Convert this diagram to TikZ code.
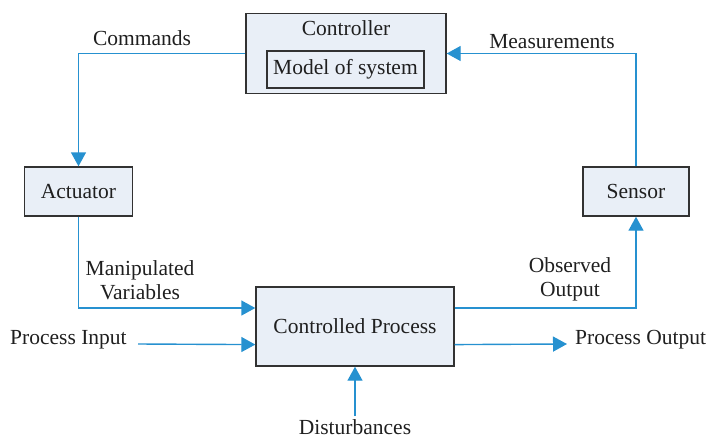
\documentclass[tikz,border=0pt]{standalone}
\usepackage{fontspec}
\setmainfont{Liberation Serif}
\usetikzlibrary{arrows.meta,calc}
\definecolor{flowblue}{RGB}{38,145,208}
\definecolor{boxfill}{RGB}{233,239,247}
\definecolor{boxgray}{RGB}{50,50,50}
\begin{document}
\begin{tikzpicture}[x=1pt,y=-1pt,
  every node/.style={font=\rmfamily\fontsize{21.5}{24}\selectfont, text=black!88},
  box/.style={draw=boxgray, fill=boxfill, line width=1.4pt, inner sep=0pt},
  flow/.style={draw=flowblue, line width=1.4pt},
  arr/.style={flow, -{Triangle[length=14pt,width=15pt,fill=flowblue]}},
  lbl/.style={inner sep=0pt, align=center}]
\useasboundingbox (0,0) rectangle (708,439);
% boxes
\node[box, minimum width=200pt, minimum height=80pt] (ctrl) at (346,53.5) {};
\node[lbl] (ctrltxt) at (346,28) {Controller};
\node[box, minimum width=157pt, minimum height=37pt] (model) at (345.5,69.5) {Model of system};
\node[box, minimum width=108pt, minimum height=49pt] (act) at (78.5,191.5) {Actuator};
\node[box, minimum width=106pt, minimum height=49pt] (sen) at (636,191.5) {Sensor};
\node[box, minimum width=198pt, minimum height=79pt] (proc) at (355,326.5) {Controlled Process};
% coordinates
\coordinate (pinA) at ($(proc.north west)!0.27!(proc.south west)$);
\coordinate (pinB) at ($(proc.north west)!0.725!(proc.south west)$);
\coordinate (poutA) at ($(proc.north east)!0.27!(proc.south east)$);
\coordinate (poutB) at ($(proc.north east)!0.725!(proc.south east)$);
\coordinate (pinStart) at (138,344);
\coordinate (poutEnd) at (567,344);
\coordinate (distStart) at (355,416);
% labels
\node[lbl] (cmd) at (142,38) {Commands};
\node[lbl] (meas) at (552,42) {Measurements};
\node[lbl] (manip) at (140,280) {Manipulated\\Variables};
\node[lbl] (obs) at (570,279) {Observed\\Output};
\node[lbl, anchor=west] (pin) at (10,340) {Process Input};
\node[lbl, anchor=west] (pout) at (575,340) {Process Output};
\node[lbl] (dist) at (355,427) {Disturbances};
% connectors
\draw[arr] (ctrl.west) -| (act.north);
\draw[arr] (sen.north) |- (ctrl.east);
\draw[arr] (act.south) |- (pinA);
\draw[arr] (pinStart) -- (pinB);
\draw[arr] (poutA) -| (sen.south);
\draw[arr] (poutB) -- (poutEnd);
\draw[arr] (distStart) -- (proc.south);
\end{tikzpicture}
\end{document}
